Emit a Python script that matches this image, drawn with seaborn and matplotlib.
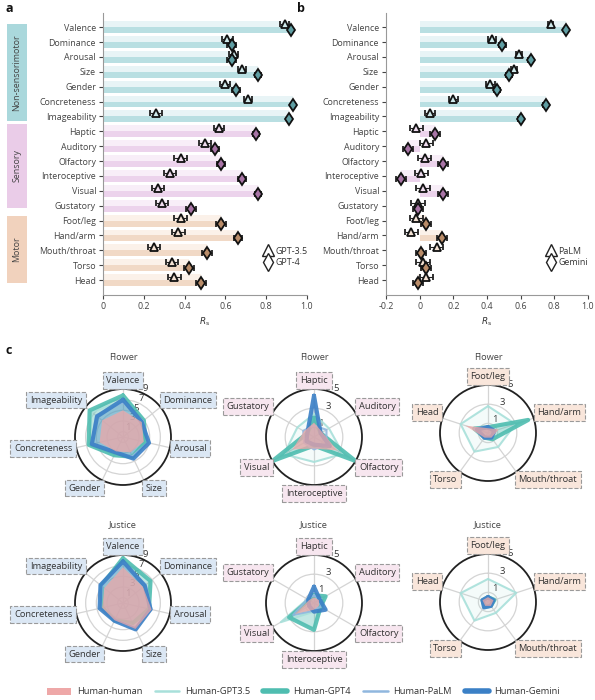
import numpy as np
import pandas as pd
import seaborn as sns
import matplotlib.pyplot as plt
from matplotlib.patches import Rectangle, Patch
from matplotlib.lines import Line2D

# ---- panel a / b data ----
dims = ['Valence', 'Dominance', 'Arousal', 'Size', 'Gender', 'Concreteness', 'Imageability',
        'Haptic', 'Auditory', 'Olfactory', 'Interoceptive', 'Visual', 'Gustatory',
        'Foot/leg', 'Hand/arm', 'Mouth/throat', 'Torso', 'Head']
groups = ['ns'] * 7 + ['sen'] * 6 + ['mot'] * 5

gpt35 = [0.89, 0.61, 0.64, 0.68, 0.60, 0.71, 0.26, 0.57, 0.50, 0.38, 0.33, 0.27, 0.29,
         0.38, 0.37, 0.25, 0.34, 0.35]
gpt35_err = [0.02, 0.025, 0.02, 0.02, 0.025, 0.02, 0.03, 0.025, 0.03, 0.03, 0.03, 0.03, 0.03,
             0.03, 0.03, 0.03, 0.03, 0.03]
gpt4 = [0.92, 0.63, 0.63, 0.76, 0.65, 0.93, 0.91, 0.75, 0.55, 0.58, 0.68, 0.76, 0.43,
        0.58, 0.66, 0.51, 0.42, 0.48]
gpt4_err = [0.01, 0.02, 0.02, 0.015, 0.02, 0.01, 0.01, 0.015, 0.02, 0.02, 0.02, 0.015, 0.025,
            0.025, 0.02, 0.025, 0.025, 0.025]

palm = [0.78, 0.43, 0.59, 0.56, 0.42, 0.20, 0.06, -0.02, 0.04, 0.03, 0.01, 0.02, -0.01,
        -0.02, -0.05, 0.10, 0.02, 0.04]
palm_err = [0.015, 0.025, 0.02, 0.02, 0.025, 0.025, 0.03, 0.04, 0.04, 0.04, 0.04, 0.04, 0.04,
            0.04, 0.04, 0.04, 0.04, 0.04]
gemini = [0.87, 0.49, 0.66, 0.53, 0.46, 0.75, 0.60, 0.09, -0.07, 0.14, -0.11, 0.14, -0.01,
          0.04, 0.13, 0.01, 0.04, -0.01]
gemini_err = [0.01, 0.02, 0.015, 0.02, 0.02, 0.015, 0.015, 0.03, 0.03, 0.03, 0.03, 0.03, 0.03,
              0.03, 0.03, 0.03, 0.03, 0.03]

# ---- panel c data ----
ns_dims = ['Valence', 'Dominance', 'Arousal', 'Size', 'Gender', 'Concreteness', 'Imageability']
sen_dims = ['Haptic', 'Auditory', 'Olfactory', 'Interoceptive', 'Visual', 'Gustatory']
mot_dims = ['Foot/leg', 'Hand/arm', 'Mouth/throat', 'Torso', 'Head']
series_names = ['Human-human', 'Human-GPT3.5', 'Human-GPT4', 'Human-PaLM', 'Human-Gemini']

flower_ns = {
    'Human-human': [5.0, 4.5, 4.0, 3.2, 3.0, 4.5, 5.0],
    'Human-GPT3.5': [6.8, 5.0, 4.5, 4.0, 3.5, 6.5, 7.5],
    'Human-GPT4': [7.8, 5.0, 4.3, 4.1, 3.8, 6.6, 8.0],
    'Human-PaLM': [6.5, 4.8, 4.8, 4.0, 3.2, 6.0, 6.5],
    'Human-Gemini': [7.0, 4.5, 5.0, 4.5, 3.2, 6.0, 6.2],
}
flower_sen = {
    'Human-human': [1.5, 1.0, 2.8, 1.2, 2.6, 1.2],
    'Human-GPT3.5': [2.4, 1.8, 3.5, 2.6, 3.6, 2.0],
    'Human-GPT4': [2.0, 0.8, 5.0, 0.9, 5.0, 0.8],
    'Human-PaLM': [1.2, 1.5, 1.5, 1.3, 1.2, 1.3],
    'Human-Gemini': [4.3, 0.8, 1.9, 0.8, 0.9, 0.8],
}
flower_mot = {
    'Human-human': [0.5, 1.2, 0.6, 0.6, 2.5],
    'Human-GPT3.5': [2.8, 3.0, 1.8, 2.4, 3.0],
    'Human-GPT4': [0.6, 4.4, 0.8, 0.6, 1.5],
    'Human-PaLM': [0.7, 0.8, 0.7, 0.7, 1.5],
    'Human-Gemini': [0.6, 0.7, 0.6, 0.6, 1.2],
}
justice_ns = {
    'Human-human': [6.7, 4.8, 5.5, 5.4, 3.6, 4.0, 4.5],
    'Human-GPT3.5': [7.5, 5.5, 5.0, 4.5, 3.6, 4.2, 5.0],
    'Human-GPT4': [8.4, 6.6, 5.0, 4.2, 3.6, 4.0, 5.2],
    'Human-PaLM': [7.5, 5.5, 5.5, 5.0, 3.5, 4.3, 5.0],
    'Human-Gemini': [7.8, 5.2, 5.3, 5.5, 3.7, 4.5, 5.4],
}
justice_sen = {
    'Human-human': [0.6, 0.6, 0.6, 0.7, 2.3, 0.6],
    'Human-GPT3.5': [0.8, 0.8, 0.8, 0.9, 4.0, 0.8],
    'Human-GPT4': [0.8, 1.4, 0.8, 2.8, 3.0, 0.6],
    'Human-PaLM': [0.8, 0.8, 0.8, 0.8, 2.5, 0.8],
    'Human-Gemini': [1.7, 0.7, 1.4, 0.9, 0.6, 0.7],
}
justice_mot = {
    'Human-human': [0.5, 0.6, 0.5, 0.5, 0.6],
    'Human-GPT3.5': [2.4, 3.1, 1.4, 2.4, 3.0],
    'Human-GPT4': [0.5, 0.7, 0.5, 0.6, 0.6],
    'Human-PaLM': [0.6, 0.6, 0.6, 0.6, 0.7],
    'Human-Gemini': [0.5, 0.6, 0.5, 0.7, 0.6],
}

# ---- styles ----
sns.set_theme(style='ticks')
plt.rcParams['font.family'] = ['Open Sans', 'DejaVu Sans']
plt.rcParams['text.color'] = '#333333'
plt.rcParams['axes.labelcolor'] = '#333333'
plt.rcParams['xtick.color'] = '#444444'
plt.rcParams['ytick.color'] = '#444444'
FS = 6.4

bar_cols = {'ns': ('#e8f4f6', '#b9dfe2'),
            'sen': ('#f8eef8', '#ecd3ec'),
            'mot': ('#fbf1e9', '#f1d9c6')}
mark_cols = {'ns': ('#cfe9eb', '#5f9ea3'),
             'sen': ('#f0dcef', '#a874a6'),
             'mot': ('#f4e2d4', '#b98c69')}
box_cols = {'ns': '#dbe7f4', 'sen': '#f7e6ef', 'mot': '#f9e6db'}
tag_cols = {'ns': '#aad8dc', 'sen': '#eacce8', 'mot': '#f1d2bd'}

ser_col = {'Human-human': '#eea8a8', 'Human-GPT3.5': '#a8e0da', 'Human-GPT4': '#4fbdb0',
           'Human-PaLM': '#90b7de', 'Human-Gemini': '#3b80c6'}

W, H = 595, 700
fig = plt.figure(figsize=(5.95, 7.0), dpi=100)


def px(x0, y0, x1, y1):
    return [x0 / W, 1 - y1 / H, (x1 - x0) / W, (y1 - y0) / H]


def bar_panel(ax, old, old_err, new, new_err, xlim, ticks, ticklabels, leg_labels):
    df = pd.DataFrame({'dim': dims * 2, 'val': new * 2,
                       'part': ['light'] * len(dims) + ['dark'] * len(dims)})
    sns.barplot(data=df, y='dim', x='val', hue='part', hue_order=['light', 'dark'],
                order=dims, orient='h', ax=ax, width=0.8, errorbar=None,
                legend=False, linewidth=0, gap=0)
    for k, cont in enumerate(ax.containers):
        for j, b in enumerate(cont):
            b.set_facecolor(bar_cols[groups[j]][k])
    for j in range(len(dims)):
        g = groups[j]
        ax.errorbar(old[j], j - 0.2, xerr=old_err[j], fmt='^', ms=5.5, mfc=mark_cols[g][0],
                    mec='#111111', mew=1.3, ecolor='#222222', elinewidth=0.8, capsize=2,
                    zorder=5)
        ax.errorbar(new[j], j + 0.2, xerr=new_err[j], fmt='d', ms=6, mfc=mark_cols[g][1],
                    mec='#111111', mew=1.3, ecolor='#222222', elinewidth=0.8, capsize=2,
                    zorder=5)
    ax.set_xlim(*xlim)
    ax.set_ylim(18.0, -0.95)
    ax.set_xticks(ticks)
    ax.set_xticklabels(ticklabels)
    ax.set_ylabel('')
    ax.set_xlabel('$R_\\mathrm{s}$', fontsize=FS, labelpad=3)
    ax.tick_params(axis='both', labelsize=FS, length=3, width=0.8, pad=2)
    sns.despine(ax=ax)
    for s in ['left', 'bottom']:
        ax.spines[s].set_color('#999999')
        ax.spines[s].set_linewidth(0.8)
    handles = [Line2D([], [], marker='^', ls='', ms=9, mfc='white', mec='#222222', mew=1.0),
               Line2D([], [], marker='d', ls='', ms=9, mfc='white', mec='#222222', mew=1.0)]
    ax.legend(handles, leg_labels, loc='lower right', bbox_to_anchor=(1.04, 0.07),
              frameon=False, fontsize=FS, handletextpad=0.2, labelspacing=0.3,
              handlelength=1.2)


ax_a = fig.add_axes(px(103, 13, 307, 295))
bar_panel(ax_a, gpt35, gpt35_err, gpt4, gpt4_err, (0, 1.0),
          [0, 0.2, 0.4, 0.6, 0.8, 1.0], ['0', '0.2', '0.4', '0.6', '0.8', '1.0'],
          ['GPT-3.5', 'GPT-4'])
ax_b = fig.add_axes(px(386, 13, 588, 295))
bar_panel(ax_b, palm, palm_err, gemini, gemini_err, (-0.2, 1.0),
          [-0.2, 0, 0.2, 0.4, 0.6, 0.8, 1.0],
          ['-0.2', '0', '0.2', '0.4', '0.6', '0.8', '1.0'], ['PaLM', 'Gemini'])

# group tags on the left of panel a
for g, label, y0, y1 in [('ns', 'Non-sensorimotor', 24, 121), ('sen', 'Sensory', 124, 208),
                         ('mot', 'Motor', 216, 283)]:
    fig.add_artist(Rectangle((7 / W, 1 - y1 / H), 20 / W, (y1 - y0) / H,
                             transform=fig.transFigure, fc=tag_cols[g], ec='none'))
    fig.text(17 / W, 1 - (y0 + y1) / 2 / H, label, rotation=90, ha='center', va='center',
             fontsize=FS, color='#444444')

# panel letters
fig.text(6 / W, 1 - 9 / H, 'a', fontsize=9, fontweight='bold', va='center', color='#111111')
fig.text(297 / W, 1 - 9 / H, 'b', fontsize=9, fontweight='bold', va='center', color='#111111')
fig.text(6 / W, 1 - 350 / H, 'c', fontsize=9, fontweight='bold', va='center', color='#111111')


def radar(cx, cy, labels, data, rmax, ticks, box, title, ty):
    R = 48
    ax = fig.add_axes(px(cx - R, cy - R, cx + R, cy + R), projection='polar')
    n = len(labels)
    ang = np.linspace(0, 2 * np.pi, n, endpoint=False)
    ax.set_theta_zero_location('N')
    ax.set_theta_direction(-1)
    ax.set_facecolor('white')
    angc = np.append(ang, ang[0])
    styles = {'Human-GPT3.5': (1.5, 0.12), 'Human-GPT4': (3.0, 0.35),
              'Human-PaLM': (1.5, 0.12), 'Human-Gemini': (3.0, 0.3)}
    for name in ['Human-GPT3.5', 'Human-GPT4', 'Human-PaLM', 'Human-Gemini']:
        v = np.append(data[name], data[name][0])
        lw, al = styles[name]
        ax.fill(angc, v, color=ser_col[name], alpha=al, lw=0, zorder=3)
        ax.plot(angc, v, color=ser_col[name], lw=lw, alpha=0.9, zorder=4)
    v = np.append(data['Human-human'], data['Human-human'][0])
    ax.fill(angc, v, color=ser_col['Human-human'], alpha=0.75, lw=0, zorder=5)
    ax.set_ylim(0, rmax)
    ax.set_thetagrids(np.degrees(ang), [''] * n)
    ax.set_rgrids(ticks, [str(t) for t in ticks], angle=24, fontsize=FS + 0.4,
                  color='#333333')
    ax.grid(color='#d4d4d4', lw=0.9)
    ax.spines['polar'].set_color('#222222')
    ax.spines['polar'].set_linewidth(1.3)
    ax.tick_params(pad=0)
    for a, lab in zip(ang, labels):
        s, c = np.sin(a), np.cos(a)
        ha = 'left' if s > 0.3 else ('right' if s < -0.3 else 'center')
        va = 'bottom' if c > 0.3 else ('top' if c < -0.3 else 'center')
        ax.text(a, rmax * 1.08, lab, ha=ha, va=va, fontsize=FS + 0.3, color='#333333',
                zorder=10,
                bbox=dict(boxstyle='square,pad=0.4', fc=box, ec='#9a9a9a', ls='--', lw=0.8))
    fig.text(cx / W, 1 - ty / H, title, ha='center', va='center', fontsize=FS + 0.3,
             color='#444444')


radar(123, 437, ns_dims, flower_ns, 9, [1, 3, 5, 7, 9], box_cols['ns'], 'Flower', 357)
radar(314, 437, sen_dims, flower_sen, 5, [1, 3, 5], box_cols['sen'], 'Flower', 357)
radar(488, 433, mot_dims, flower_mot, 5, [1, 3, 5], box_cols['mot'], 'Flower', 357)
radar(123, 603, ns_dims, justice_ns, 9, [1, 3, 5, 7, 9], box_cols['ns'], 'Justice', 525)
radar(314, 603, sen_dims, justice_sen, 5, [1, 3, 5], box_cols['sen'], 'Justice', 525)
radar(488, 602, mot_dims, justice_mot, 5, [1, 3, 5], box_cols['mot'], 'Justice', 525)

leg_handles = [Patch(fc=ser_col['Human-human'], ec='none'),
               Line2D([], [], color=ser_col['Human-GPT3.5'], lw=1.8),
               Line2D([], [], color=ser_col['Human-GPT4'], lw=4),
               Line2D([], [], color=ser_col['Human-PaLM'], lw=1.8),
               Line2D([], [], color=ser_col['Human-Gemini'], lw=4)]
fig.legend(leg_handles, series_names, loc='center', bbox_to_anchor=(0.51, 1 - 692 / H),
           ncol=5, frameon=False, fontsize=FS + 0.3, handlelength=2.6, columnspacing=1.4,
           handletextpad=0.6)

fig.savefig('out.png', dpi=100)
